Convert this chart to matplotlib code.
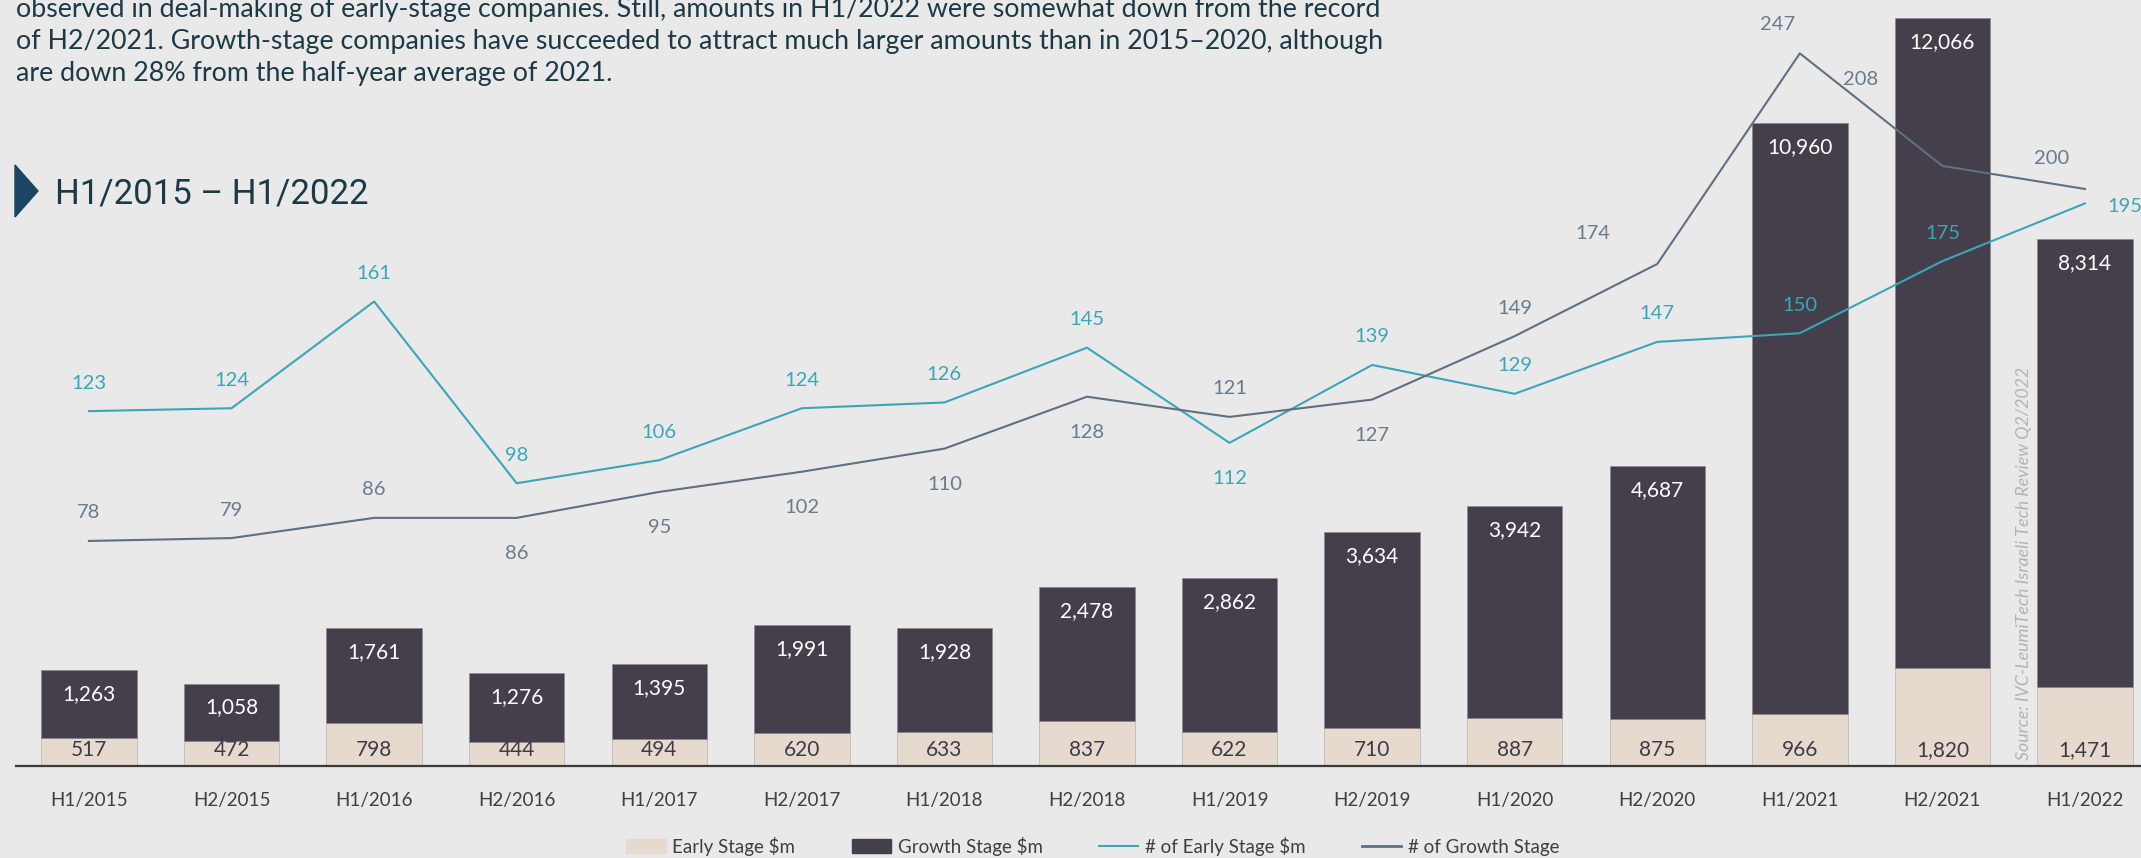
import matplotlib.pyplot as plt
import numpy as np
from matplotlib.patches import Polygon, Patch
from matplotlib.lines import Line2D

plt.rcParams['font.family'] = ['Lato', 'DejaVu Sans']

# data
periods = ['H1/2015', 'H2/2015', 'H1/2016', 'H2/2016', 'H1/2017', 'H2/2017', 'H1/2018', 'H2/2018',
           'H1/2019', 'H2/2019', 'H1/2020', 'H2/2020', 'H1/2021', 'H2/2021', 'H1/2022']
early_amt = [517, 472, 798, 444, 494, 620, 633, 837, 622, 710, 887, 875, 966, 1820, 1471]
growth_amt = [1263, 1058, 1761, 1276, 1395, 1991, 1928, 2478, 2862, 3634, 3942, 4687, 10960, 12066, 8314]
early_deals = [123, 124, 161, 98, 106, 124, 126, 145, 112, 139, 129, 147, 150, 175, 195]
growth_deals = [78, 79, 86, 86, 95, 102, 110, 128, 121, 127, 149, 174, 247, 208, 200]

# label placement: 'a' above, 'b' below, or explicit pixel offset
early_pos = ['a'] * 15
early_pos[8] = 'b'
early_pos[14] = (40, -3)
growth_pos = ['a', 'a', 'a', 'b', 'b', 'b', 'b', 'b', 'a', 'b', 'a', (-64, 30), (-22, 29), (-82, 86), (-33, 30)]

BG = '#e9e9e9'
EARLY = '#e6d9ce'
GROWTH = '#453f4b'
TEAL = '#3aa6b8'
SLATE = '#5f7081'
DARK = '#1c3a46'

W, H = 2141, 858
fig = plt.figure(figsize=(W / 100, H / 100), dpi=100, facecolor=BG)
ax = fig.add_axes([16 / W, 92 / H, 1 - 16 / W, 766 / H])
ax.set_facecolor(BG)

x = np.arange(len(periods))
ax.bar(x, early_amt, width=0.67, color=EARLY, edgecolor='#b9b2b4', linewidth=0.5)
ax.bar(x, growth_amt, width=0.67, bottom=early_amt, color=GROWTH, edgecolor='#8d8890', linewidth=0.5)
ax.set_xlim(-0.512, 14.393)
ax.set_ylim(0, 14214)

for xi, e, g in zip(x, early_amt, growth_amt):
    ax.annotate(f'{g:,}', (xi, e + g), xytext=(0, -24), textcoords='offset pixels',
                ha='center', va='center', color='white', fontsize=15)
    ax.annotate(f'{e:,}', (xi, 0), xytext=(0, 16), textcoords='offset pixels',
                ha='center', va='center', color='#3f3a45', fontsize=15)

ax.set_xticks(x, periods)
ax.tick_params(axis='x', length=0, pad=19, labelsize=13.5, labelcolor='#404040')
ax.set_yticks([])
for s in ['top', 'right', 'left']:
    ax.spines[s].set_visible(False)
ax.spines['bottom'].set_color('#3a3a3a')
ax.spines['bottom'].set_linewidth(1.6)

ax2 = ax.twinx()
ax2.set_ylim(0, 265.5)
ax2.plot(x, early_deals, color=TEAL, lw=1.5)
ax2.plot(x, growth_deals, color=SLATE, lw=1.5)
ax2.set_yticks([])
for s in ax2.spines.values():
    s.set_visible(False)


def put_labels(vals, pos, color):
    for xi, v, p in zip(x, vals, pos):
        if p == 'a':
            off = (0, 28)
        elif p == 'b':
            off = (0, -36)
        else:
            off = p
        ax2.annotate(str(v), (xi, v), xytext=off, textcoords='offset pixels',
                     ha='center', va='center', color=color, fontsize=14.5)


put_labels(early_deals, early_pos, TEAL)
put_labels(growth_deals, growth_pos, '#6b7b8b')

# header text (cut off at the top like the source)
para = ['observed in deal-making of early-stage companies. Still, amounts in H1/2022 were somewhat down from the record',
        'of H2/2021. Growth-stage companies have succeeded to attract much larger amounts than in 2015\u20132020, although',
        'are down 28% from the half-year average of 2021.']
for i, line in enumerate(para):
    fig.text(16 / W, 1 - (9 + 32 * i) / H, line, ha='left', va='center', fontsize=19.3, color=DARK)

tri = [(15, 165), (38, 191), (15, 217)]
fig.patches.append(Polygon([(px / W, 1 - py / H) for px, py in tri], closed=True,
                           transform=fig.transFigure, color='#1b4560'))
fig.text(55 / W, 1 - 194 / H, 'H1/2015 \u2013 H1/2022', ha='left', va='center',
         fontsize=25, color=DARK, family=['Roboto', 'DejaVu Sans'])

fig.text(2024 / W, 1 - 760 / H, 'Source: IVC-LeumiTech Israeli Tech Review Q2/2022', rotation=90,
         ha='center', va='bottom', style='italic', color='#b3b3b3', fontsize=12.8)

handles = [Patch(color=EARLY), Patch(color=GROWTH), Line2D([], [], color=TEAL, lw=1.5),
           Line2D([], [], color=SLATE, lw=2)]
labels = ['Early Stage $m', 'Growth Stage $m', '# of Early Stage $m', '# of Growth Stage']
fig.legend(handles, labels, ncol=4, loc='center', bbox_to_anchor=(1093 / W, 1 - 846 / H),
           frameon=False, fontsize=13.5, handlelength=2.1, handletextpad=0.36, columnspacing=3.0,
           labelcolor='#404040', borderpad=0)

fig.savefig('out.png', dpi=100, facecolor=BG)
